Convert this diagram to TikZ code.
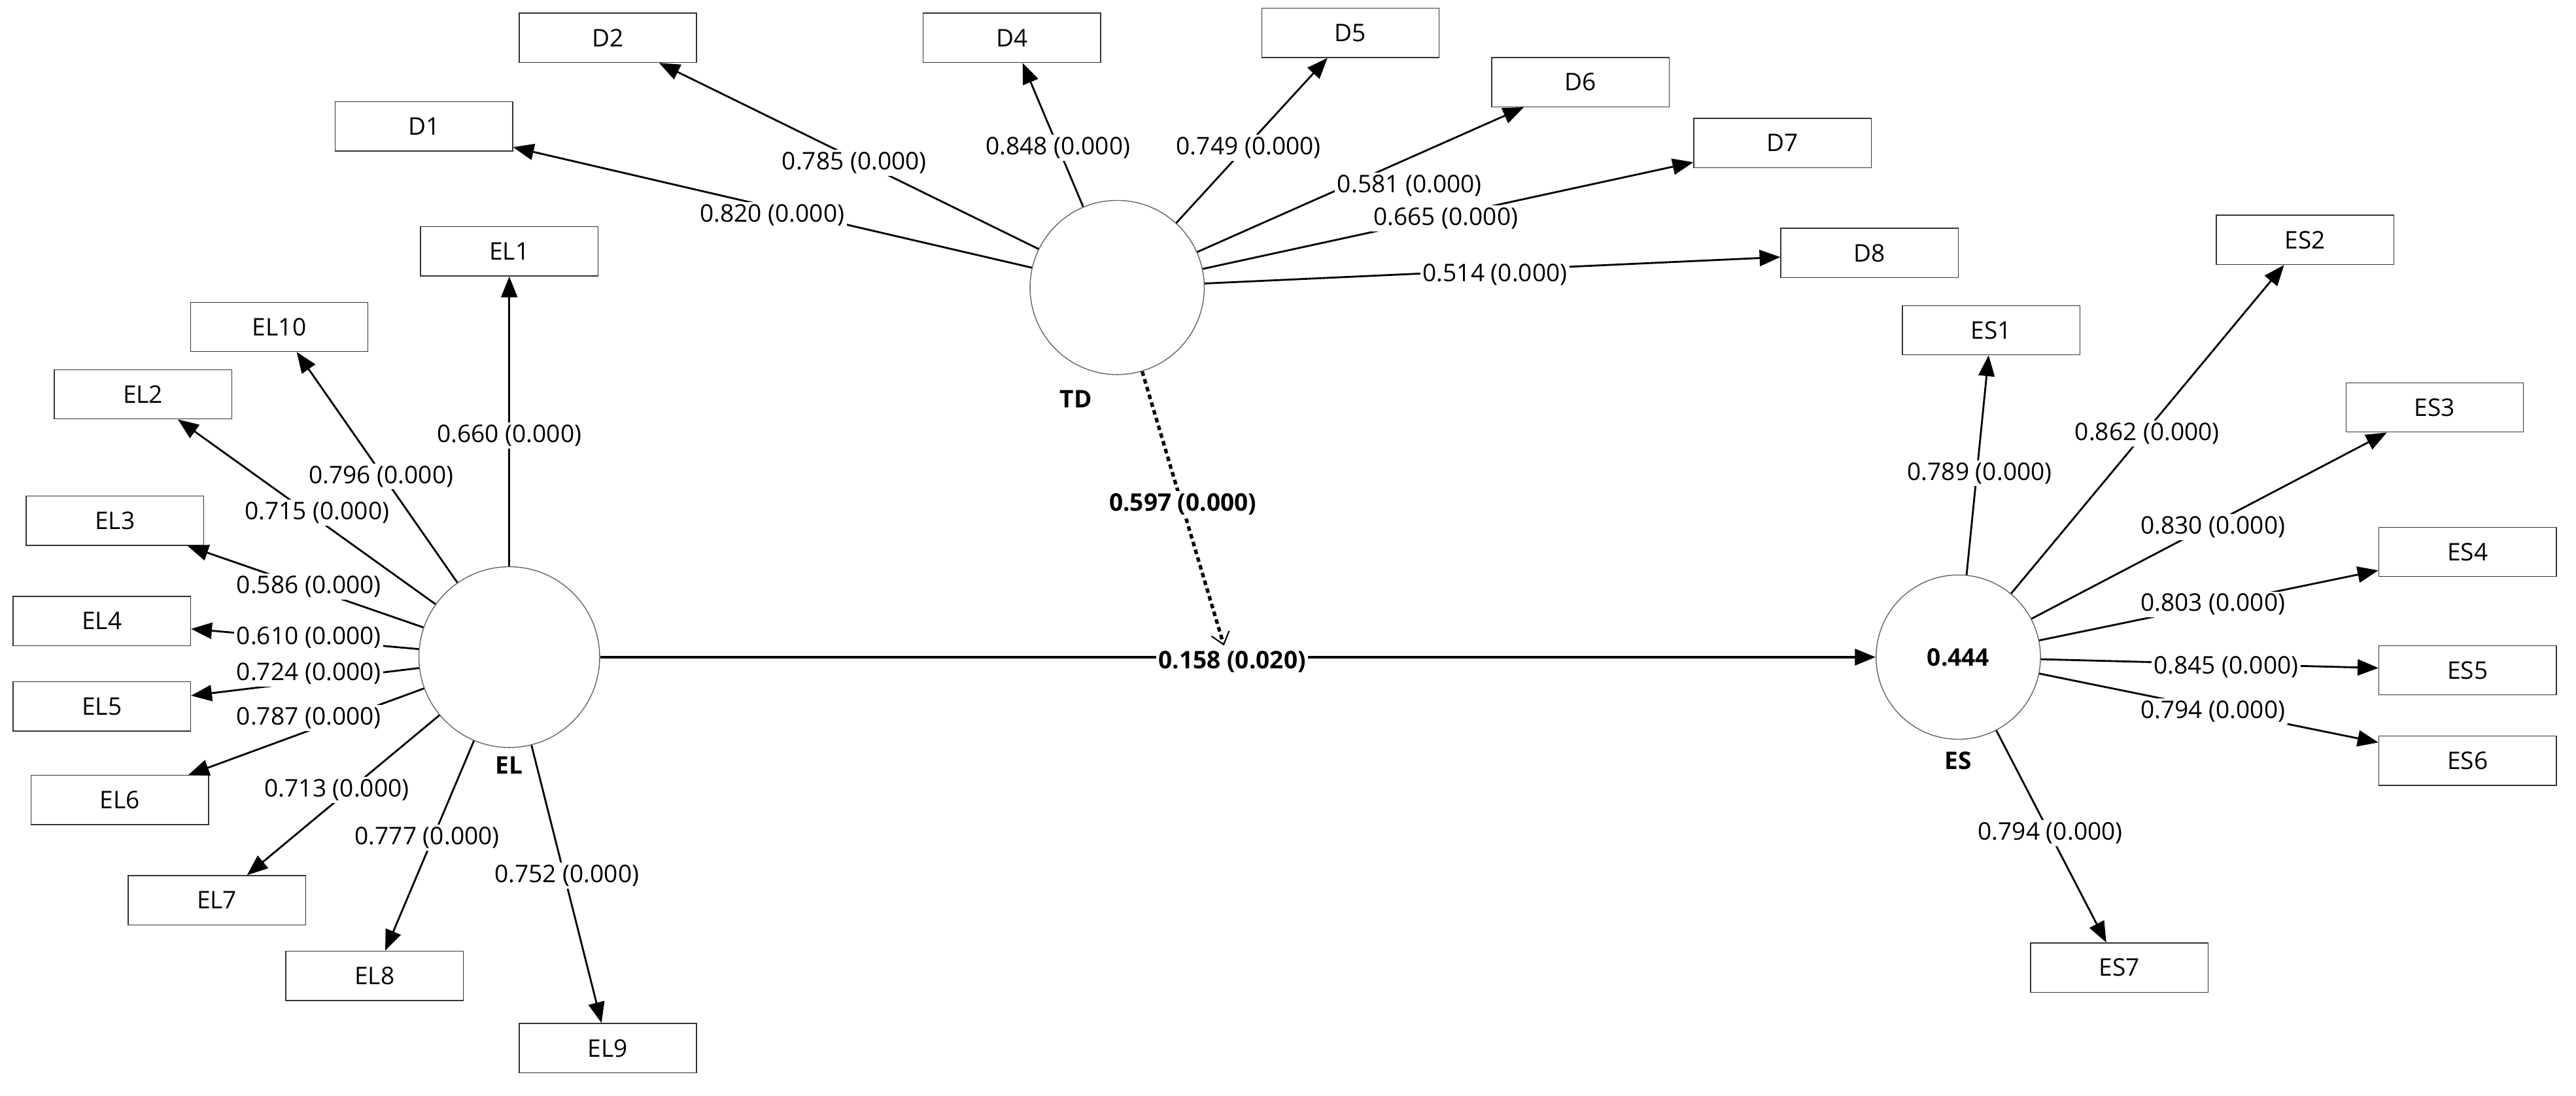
\documentclass[tikz,border=0pt]{standalone}
\usepackage{fontspec}
\setmainfont{Open Sans}
\usetikzlibrary{arrows.meta}
\begin{document}
\begin{tikzpicture}[x=0.025cm,y=-0.025cm,
  box/.style={draw=black!80,fill=white,minimum width=2.7cm,minimum height=0.75cm,inner sep=0pt,font=\fontsize{10.5}{12}\selectfont},
  lv/.style={circle,draw=black!60,fill=white,inner sep=0pt},
  ld/.style={-{Triangle[length=9pt,width=7pt]},line width=0.8pt},
  lab/.style={fill=white,inner sep=1pt,font=\fontsize{10.5}{12}\selectfont},
  blab/.style={inner sep=1pt,font=\bfseries\fontsize{10.5}{12}\selectfont}]
\useasboundingbox (0,0) rectangle (1568,667);
\node[lv,minimum size=2.65cm] (TD) at (680,175) {};
\node[lv,minimum size=2.75cm] (EL) at (310,400) {};
\node[lv,minimum size=2.5cm] (ES) at (1192,400) {};
\node[blab] at (655,243) {TD};
\node[blab] at (310,466) {EL};
\node[blab] at (1192,463) {ES};
\node[blab] at (1192,400) {0.444};
% boxes
\foreach \n/\x/\y in {D2/370/23,D1/258/77,D4/616/23,D5/822/20,D6/962/50,D7/1085/87,D8/1138/154,
  EL1/310/153,EL10/170/199,EL2/87/240,EL3/70/317,EL4/62/378,EL5/62/430,EL6/73/487,EL7/132/548,EL8/228/594,EL9/370/638,
  ES1/1212/201,ES2/1403/146,ES3/1482/248,ES4/1502/336,ES5/1502/408,ES6/1502/463,ES7/1290/589}
  \node[box] (\n) at (\x,\y) {\n};
% edges
\foreach \t in {D1,D2,D4,D5,D6,D7,D8} \draw[ld] (TD) -- (\t);
\foreach \t in {EL1,EL2,EL3,EL4,EL5,EL6,EL7,EL8,EL9,EL10} \draw[ld] (EL) -- (\t);
\foreach \t in {ES1,ES2,ES3,ES4,ES5,ES6,ES7} \draw[ld] (ES) -- (\t);
\draw[ld,line width=1.2pt] (EL) -- (ES);
\coordinate (M) at (745,393);
\draw[dash pattern=on 2pt off 1.5pt,line width=1.5pt,-{Straight Barb[open,length=5pt,width=8pt,line width=0.6pt]}] (TD) -- (M);
% labels
\foreach \x/\y/\t in {520/99/0.785,470/131/0.820,644/90/0.848,760/90/0.749,858/113/0.581,880/133/0.665,910/167/0.514,
  310/265/0.660,232/290/0.796,193/312/0.715,188/357/0.586,188/388/0.610,188/410/0.724,188/437/0.787,205/481/0.713,260/510/0.777,345/533/0.752,
  1205/288/0.789,1307/264/0.862,1347/321/0.830,1347/368/0.803,1355/406/0.845,1347/433/0.794,1248/507/0.794}
  \node[lab] at (\x,\y) {\t\ (0.000)};
\node[blab,fill=white] at (750,403) {0.158 (0.020)};
\node[blab,fill=white] at (720,307) {0.597 (0.000)};
\end{tikzpicture}
\end{document}
